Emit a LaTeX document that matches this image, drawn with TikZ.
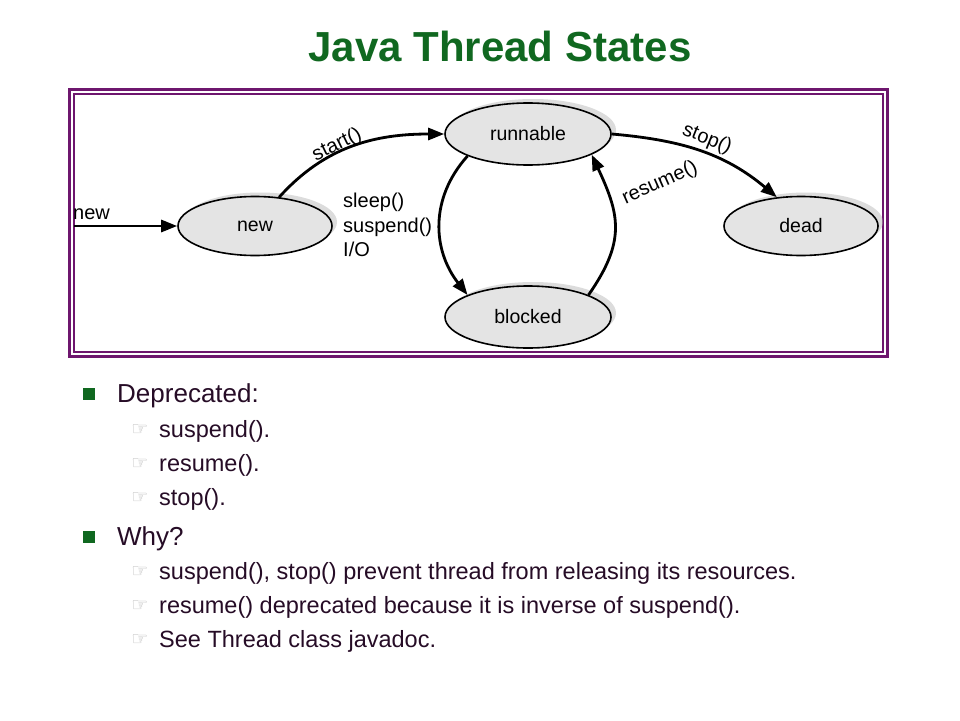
\documentclass[tikz,border=0pt]{standalone}
\usepackage{fontspec}
\setmainfont{Liberation Sans}
\newfontfamily\handfont{DejaVu Sans}
\usetikzlibrary{shapes.geometric,arrows.meta,shadows}
\definecolor{titlegreen}{RGB}{16,104,32}
\definecolor{framepurple}{RGB}{110,22,110}
\definecolor{statefill}{RGB}{228,228,228}
\definecolor{bodytext}{RGB}{38,12,38}
\tikzset{
  state/.style={ellipse,draw,line width=1.6pt,fill=statefill,
    minimum width=166pt,minimum height=62pt,inner sep=0pt,
    font=\fontsize{19.5}{22}\selectfont,
    drop shadow={shadow xshift=5pt,shadow yshift=4pt,fill=gray!60,opacity=0.45}},
  trans/.style={line width=2.8pt,-{Triangle[length=16pt,width=12pt]}},
  lbl/.style={font=\fontsize{20}{22}\selectfont,inner sep=0pt},
  topitem/.style={anchor=base west,inner sep=0pt,text=bodytext,font=\fontsize{26}{30}\selectfont},
  subitem/.style={anchor=base west,inner sep=0pt,text=bodytext,font=\fontsize{23.5}{28}\selectfont},
  greenbox/.style={fill=titlegreen,minimum size=12pt,inner sep=0pt},
  hand/.style={inner sep=0pt,text=gray!55,font=\handfont\fontsize{19}{19}\selectfont}
}
\begin{document}
\begin{tikzpicture}[x=1pt,y=1pt]
  \fill[white] (0,0) rectangle (960,-720);
  \useasboundingbox (0,0) rectangle (960,-720);
  \node[text=titlegreen,font=\fontsize{42}{48}\selectfont\bfseries] (title) at (500,-46) {Java Thread States};

  % frame round the state diagram
  \draw[framepurple,line width=3pt] (69.5,-89.5) rectangle (887.5,-356.5);
  \draw[framepurple,line width=1.2pt] (74,-94) rectangle (883,-352);

  \node[state] (runnable) at (528,-134) {runnable};
  \node[state] (blocked) at (528,-317) {blocked};
  \node[state,minimum width=154pt,minimum height=59pt] (new) at (255,-226) {new};
  \node[state,minimum width=154pt,minimum height=59pt] (dead) at (801,-226) {dead};
  \coordinate (entry) at (74,-226);

  \draw[trans] (entry) -- (new.west);
  \draw[trans] (new.50) to[out=48,in=180] (runnable.west);
  \draw[trans] (runnable.200) to[out=228,in=128,looseness=1.05] (blocked.160);
  \draw[trans] (blocked.20) to[out=55,in=295,looseness=1.2] (runnable.342);
  \draw[trans] (runnable.east) to[out=-5,in=140] (dead.130);

  \node[lbl,anchor=base west] (newlbl) at (73,-219) {new};
  \node[lbl,rotate=26] (startlbl) at (337,-145) {start()};
  \node[lbl,rotate=-22] (stoplbl) at (707,-139) {stop()};
  \node[lbl,rotate=24] (resumelbl) at (660,-183) {resume()};
  \node[lbl,anchor=north west,align=left] (sleeplbl) at (343,-193) {sleep()\\[2.5pt]suspend()\\[2.5pt]I/O};

  % notes below the diagram
  \node[greenbox] (sq1) at (89,-393.5) {};
  \node[topitem] (dep) at (117,-402) {Deprecated:};
  \node[hand] (h1) at (140,-430) {☞};
  \node[subitem] (d1) at (159,-437) {suspend().};
  \node[hand] (h2) at (140,-464) {☞};
  \node[subitem] (d2) at (159,-471) {resume().};
  \node[hand] (h3) at (140,-498) {☞};
  \node[subitem] (d3) at (159,-505) {stop().};
  \node[greenbox] (sq2) at (89,-536.5) {};
  \node[topitem] (why) at (117,-545) {Why?};
  \node[hand] (h4) at (140,-572) {☞};
  \node[subitem] (w1) at (159,-579) {suspend(), stop() prevent thread from releasing its resources.};
  \node[hand] (h5) at (140,-606) {☞};
  \node[subitem] (w2) at (159,-613) {resume() deprecated because it is inverse of suspend().};
  \node[hand] (h6) at (140,-640) {☞};
  \node[subitem] (w3) at (159,-647) {See Thread class javadoc.};
\end{tikzpicture}
\end{document}
